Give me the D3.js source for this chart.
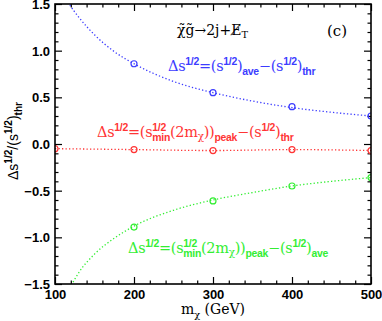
<!DOCTYPE html>
<html>
<head>
<meta charset="utf-8">
<script src="https://cdn.jsdelivr.net/npm/d3@7"></script>
<style>
  body { margin: 0; background: #fff; }
  svg { display: block; }
  .tick text { font-family: "Liberation Sans", Arial, sans-serif; font-weight: bold; font-size: 13px; fill: #000; }
  .tick line { stroke: #000; stroke-width: 1.2; }
</style>
</head>
<body>
<svg id="chart"></svg>
<script>
// measured points (m_chi in GeV)
const massPts = [200, 300, 400, 500];
const massRed = [100, 200, 300, 400, 500];
const aveVals = [0.86, 0.55, 0.40, 0.30];
const peakThrVals = [-0.05, -0.06, -0.07, -0.06, -0.07];
const peakAveVals = [-0.89, -0.61, -0.45, -0.36];

// dotted fit curves
const curveMass = [110, 118, 130, 150, 175, 200, 250, 300, 350, 400, 450, 500];
const aveCurve = [1.62, 1.50, 1.36, 1.17, 0.99, 0.86, 0.67, 0.55, 0.46, 0.39, 0.34, 0.30];
const peakAveCurve = [-1.72, -1.56, -1.38, -1.18, -1.01, -0.88, -0.71, -0.60, -0.52, -0.45, -0.40, -0.36];

const xMajor = [100, 200, 300, 400, 500];
const yMajor = [-1.5, -1.0, -0.5, 0.0, 0.5, 1.0, 1.5];

const colBlue = '#3c3cff', colRed = '#ff3535', colGreen = '#33ee33';

const width = 382, height = 321;
const margin = {top: 4, right: 11, bottom: 37, left: 55};
const w = width - margin.left - margin.right;
const h = height - margin.top - margin.bottom;

const svg = d3.select('#chart').attr('width', width).attr('height', height);
const g = svg.append('g').attr('transform', 'translate(' + margin.left + ',' + margin.top + ')');

const x = d3.scaleLinear().domain([100, 500]).range([0, w]);
const y = d3.scaleLinear().domain([-1.5, 1.5]).range([h, 0]);

const xMinor = d3.range(100, 501, 20).filter(v => v % 100 !== 0);
const yMinor = d3.range(-15, 16, 1).map(v => v / 10).filter(v => Math.abs(v * 2 - Math.round(v * 2)) > 1e-6);

const fmtY = d => d3.format('.1f')(d).replace('-', '\u2212');

// axes, ticks inward
function addAxis(axis, tx, ty, labels) {
  const a = g.append('g').attr('transform', 'translate(' + tx + ',' + ty + ')').call(axis);
  a.select('.domain').remove();
  if (!labels) a.selectAll('text').remove();
  return a;
}
const xAx = addAxis(d3.axisBottom(x).tickValues(xMajor).tickSize(-7).tickPadding(6).tickFormat(d3.format('d')), 0, h, true);
addAxis(d3.axisBottom(x).tickValues(xMinor).tickSize(-3.5), 0, h, false);
addAxis(d3.axisTop(x).tickValues(xMajor).tickSize(-7), 0, 0, false);
addAxis(d3.axisTop(x).tickValues(xMinor).tickSize(-3.5), 0, 0, false);
const yAx = addAxis(d3.axisLeft(y).tickValues(yMajor).tickSize(-7).tickPadding(5).tickFormat(fmtY), 0, 0, true);
addAxis(d3.axisLeft(y).tickValues(yMinor).tickSize(-3.5), 0, 0, false);
addAxis(d3.axisRight(y).tickValues(yMajor).tickSize(-7), w, 0, false);
addAxis(d3.axisRight(y).tickValues(yMinor).tickSize(-3.5), w, 0, false);

xAx.selectAll('text').attr('dy', '0.71em');
yAx.selectAll('text').attr('dy', '0.35em');

// clip
svg.append('defs').append('clipPath').attr('id', 'clip')
  .append('rect').attr('width', w).attr('height', h);
const plot = g.append('g').attr('clip-path', 'url(#clip)');

const line = d3.line().curve(d3.curveMonotoneX).x(d => x(d[0])).y(d => y(d[1]));

function dotted(xs, ys, color) {
  plot.append('path')
    .datum(d3.zip(xs, ys))
    .attr('d', line)
    .attr('fill', 'none')
    .attr('stroke', color)
    .attr('stroke-width', 1.3)
    .attr('stroke-dasharray', '1.3,2.2');
}
function markers(xs, ys, color) {
  plot.selectAll(null)
    .data(d3.zip(xs, ys))
    .enter()
    .append('circle')
    .attr('cx', d => x(d[0]))
    .attr('cy', d => y(d[1]))
    .attr('r', 3)
    .attr('fill', 'none')
    .attr('stroke', color)
    .attr('stroke-width', 1.2);
}

dotted(curveMass, aveCurve, colBlue);
dotted(massRed, peakThrVals, colRed);
dotted(curveMass, peakAveCurve, colGreen);
markers(massPts, aveVals, colBlue);
markers(massRed, peakThrVals, colRed);
markers(massPts, peakAveVals, colGreen);

// frame
g.append('rect').attr('width', w).attr('height', h)
  .attr('fill', 'none').attr('stroke', '#000').attr('stroke-width', 1.6);

// formula labels
const serif = '"DejaVu Serif", "Liberation Serif", serif';
const sans = '"Liberation Sans", Arial, sans-serif';

function small(t, str) {
  return t.append('tspan').text(str).attr('font-size', '0.72em')
    .attr('font-family', sans).attr('font-weight', 'bold');
}

const labelFont = {'font-family': serif, 'font-size': 14.5, 'letter-spacing': -0.3};

function newLabel(xp, yp, color) {
  const t = svg.append('text').attr('x', xp).attr('y', yp).attr('fill', color);
  Object.entries(labelFont).forEach(([k, v]) => t.attr(k, v));
  return t;
}

// blue: (s^1/2)_ave - (s^1/2)_thr
const tb = newLabel(168, 71, colBlue);
tb.append('tspan').text('\u0394s');
small(tb, '1/2').attr('dy', -6.5);
tb.append('tspan').text('=(s').attr('dy', 6.5);
small(tb, '1/2').attr('dy', -6.5);
tb.append('tspan').text(')').attr('dy', 6.5);
small(tb, 'ave').attr('dy', 4);
tb.append('tspan').text('\u2212(s').attr('dy', -4);
small(tb, '1/2').attr('dy', -6.5);
tb.append('tspan').text(')').attr('dy', 6.5);
small(tb, 'thr').attr('dy', 4);

function peakLabel(xp, yp, color, last) {
  const t = newLabel(xp, yp, color);
  t.append('tspan').text('\u0394s');
  small(t, '1/2').attr('dy', -6.5);
  t.append('tspan').text('=(s').attr('dy', 6.5);
  // stacked sup/sub after s
  const s1 = small(t, '1/2').attr('dy', -6.5);
  const s2 = small(t, 'min').attr('dy', 10.5);
  const l1 = s1.node().getComputedTextLength();
  const l2 = s2.node().getComputedTextLength();
  s2.attr('dx', -l1);
  t.append('tspan').text('(2m').attr('dy', -4).attr('dx', Math.max(0, l1 - l2));
  t.append('tspan').text('\u03c7').attr('font-size', '0.72em').attr('dy', 3);
  t.append('tspan').text('))').attr('dy', -3);
  small(t, 'peak').attr('dy', 3.5);
  t.append('tspan').text('\u2212(s').attr('dy', -3.5);
  small(t, '1/2').attr('dy', -6.5);
  t.append('tspan').text(')').attr('dy', 6.5);
  small(t, last).attr('dy', 4);
}
peakLabel(97, 137, colRed, 'thr');
peakLabel(128, 253, colGreen, 'ave');

// process label and panel tag
svg.append('text').attr('x', 177).attr('y', 35)
  .attr('font-family', serif).attr('font-size', 14)
  .text('\u03c7\u0303g\u0303\u21922j+E\u0338')
  .append('tspan').text('T').attr('font-size', '0.7em').attr('dy', 3);
svg.append('text').attr('x', 327).attr('y', 36)
  .attr('font-family', serif).attr('font-size', 15).text('(c)');

// axis titles
const xt = svg.append('text').attr('x', 213).attr('y', 314).attr('text-anchor', 'middle')
  .attr('font-family', serif).attr('font-size', 14);
xt.append('tspan').text('m');
xt.append('tspan').text('\u03c7').attr('font-size', '0.7em').attr('dy', 4);
xt.append('tspan').text(' (GeV)').attr('dy', -4);

const yt = svg.append('text').attr('transform', 'translate(18,' + (margin.top + h / 2 - 3) + ') rotate(-90)')
  .attr('text-anchor', 'middle').attr('font-family', sans).attr('font-size', 14);
yt.append('tspan').text('\u0394s');
yt.append('tspan').text('1/2').attr('font-size', '0.72em').attr('font-weight', 'bold').attr('dy', -6);
yt.append('tspan').text('/(s').attr('dy', 6);
yt.append('tspan').text('1/2').attr('font-size', '0.72em').attr('font-weight', 'bold').attr('dy', -6);
yt.append('tspan').text(')').attr('dy', 6);
yt.append('tspan').text('thr').attr('font-size', '0.72em').attr('font-weight', 'bold').attr('dy', 4);
</script>
</body>
</html>
